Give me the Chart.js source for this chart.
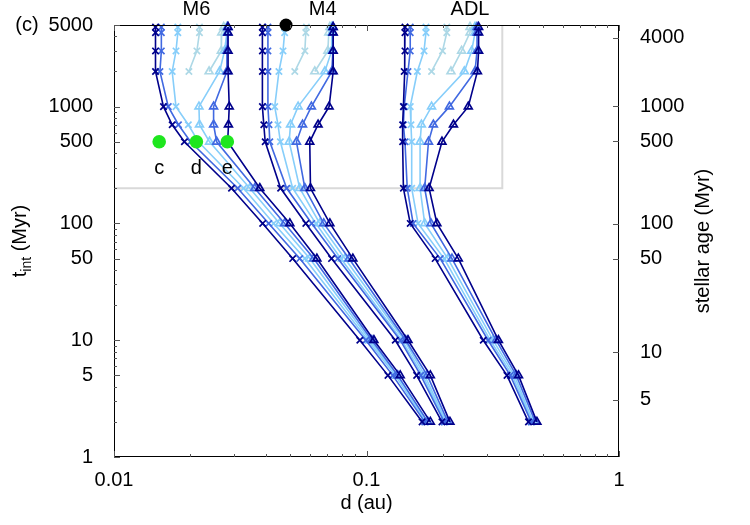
<!DOCTYPE html>
<html><head><meta charset="utf-8">
<script src="https://cdn.jsdelivr.net/npm/chart.js@4"></script>
<style>html,body{margin:0;padding:0;background:#fff}#wrap{width:750px;height:525px}</style>
</head><body><div id="wrap"><canvas id="c" width="750" height="525"></canvas></div>
<script>
// ---------- data ----------
const tRows     = [4800, 4300, 3000, 2000, 1000, 700, 500, 200, 100, 50, 10, 5, 2];   // t_int (Myr)
const tRowsPale = [4800, 4300, 3000, 2000];

const m6NavyCross  = [0.0146, 0.0146, 0.0146, 0.0146, 0.0157, 0.0170, 0.0190, 0.0292, 0.0388, 0.0510, 0.0941, 0.1216, 0.166];
const m6RoyalCross = [0.0154, 0.0154, 0.0154, 0.0152, 0.0164, 0.0180, 0.0201, 0.0309, 0.0410, 0.0544, 0.0994, 0.127, 0.170];
const m6SkyCross   = [0.0179, 0.0179, 0.0176, 0.0170, 0.0176, 0.0197, 0.0216, 0.0326, 0.0429, 0.0570, 0.1013, 0.130, 0.172];
const m6PaleCross  = [0.0218, 0.0218, 0.0213, 0.0198];
const m6PaleTri    = [0.0272, 0.0267, 0.0266, 0.0238];
const m6SkyTri     = [0.0280, 0.0280, 0.0274, 0.0262, 0.0217, 0.0218, 0.0239, 0.0345, 0.0453, 0.0596, 0.1032, 0.132, 0.174];
const m6RoyalTri   = [0.0282, 0.0282, 0.0280, 0.0280, 0.0248, 0.0248, 0.0255, 0.0361, 0.0474, 0.0618, 0.1050, 0.133, 0.175];
const m6NavyTri    = [0.0283, 0.0283, 0.0283, 0.0283, 0.0286, 0.0284, 0.0282, 0.0378, 0.0497, 0.0636, 0.1070, 0.136, 0.179];

const m4NavyCross  = [0.0387, 0.0387, 0.0387, 0.0387, 0.0387, 0.0392, 0.0397, 0.0457, 0.0575, 0.0727, 0.130, 0.158, 0.199];
const m4RoyalCross = [0.0407, 0.0407, 0.0407, 0.0407, 0.0407, 0.0411, 0.0414, 0.0483, 0.0607, 0.0770, 0.136, 0.164, 0.203];
const m4SkyCross   = [0.0474, 0.0474, 0.0467, 0.0450, 0.0433, 0.0446, 0.0456, 0.0510, 0.0630, 0.0791, 0.138, 0.167, 0.205];
const m4PaleCross  = [0.0578, 0.0575, 0.0570, 0.0520];
const m4PaleTri    = [0.0716, 0.0709, 0.0703, 0.0624];
const m4SkyTri     = [0.0729, 0.0729, 0.0727, 0.0684, 0.0536, 0.0500, 0.0494, 0.0544, 0.0653, 0.0821, 0.141, 0.170, 0.207];
const m4RoyalTri   = [0.0736, 0.0736, 0.0736, 0.0729, 0.0605, 0.0558, 0.0528, 0.0570, 0.0677, 0.0852, 0.143, 0.174, 0.210];
const m4NavyTri    = [0.0738, 0.0738, 0.0738, 0.0738, 0.0711, 0.0643, 0.0596, 0.0600, 0.0716, 0.0883, 0.146, 0.179, 0.214];

const adlNavyCross  = [0.142, 0.142, 0.142, 0.141, 0.140, 0.139, 0.139, 0.140, 0.149, 0.187, 0.290, 0.360, 0.438];
const adlRoyalCross = [0.149, 0.149, 0.149, 0.146, 0.141, 0.140, 0.142, 0.145, 0.153, 0.196, 0.303, 0.371, 0.449];
const adlSkyCross   = [0.172, 0.172, 0.169, 0.159, 0.149, 0.150, 0.151, 0.151, 0.160, 0.203, 0.309, 0.378, 0.453];
const adlPaleCross  = [0.208, 0.208, 0.200, 0.181];
const adlPaleTri    = [0.257, 0.257, 0.238, 0.216];
const adlSkyTri     = [0.269, 0.269, 0.261, 0.244, 0.181, 0.165, 0.163, 0.163, 0.170, 0.210, 0.317, 0.385, 0.457];
const adlRoyalTri   = [0.274, 0.274, 0.274, 0.269, 0.213, 0.184, 0.176, 0.170, 0.180, 0.218, 0.326, 0.392, 0.466];
const adlNavyTri    = [0.278, 0.278, 0.278, 0.275, 0.253, 0.221, 0.199, 0.177, 0.190, 0.231, 0.333, 0.400, 0.473];

const insetBoxD = [0.01, 0.345, 0.345];
const insetBoxT = [200, 200, 5000];

const greenD = [0.0151, 0.0212, 0.0281];
const greenT = [500, 500, 500];
const greenLabels = ['c', 'd', 'e'];

const blackD = [0.048];
const blackT = [5000];

const groupLabels = ['M6', 'M4', 'ADL'];
const groupLabelD = [0.0212, 0.0671, 0.257];

const xTicks = [0.01, 0.1, 1];
const yTicks = [1, 5, 10, 50, 100, 500, 1000, 5000];
const ageTickLabels = [5, 10, 50, 100, 500, 1000, 4000];
const ageTickAtTint = [3.1, 7.9, 50, 99, 505, 1010, 3900];

// ---------- styling ----------
const FONT = '"Liberation Sans", Arial, Helvetica, sans-serif';
const FS = 20;
const COL = {navy: '#00008b', royal: '#4169e1', sky: '#87cefa', pale: '#add8e6'};

function pts(ds, ts) { return ds.map((d, i) => ({x: d, y: ts[i]})); }
function curve(ds, ts, color, marker, order) {
  const tri = marker === 'tri';
  return {
    data: pts(ds, ts), showLine: true, order: order, clip: 8,
    borderColor: color, borderWidth: 1.6,
    backgroundColor: tri ? 'rgba(0,0,0,0)' : color,
    pointStyle: tri ? 'triangle' : 'crossRot',
    pointRadius: 4.5, pointBorderWidth: 1.7,
    pointBorderColor: color, pointBackgroundColor: 'rgba(0,0,0,0)'
  };
}
function group(nc, rc, sc, pc, pt, st, rt, nt) {
  return [
    curve(pc, tRowsPale, COL.pale, 'cross', 8),
    curve(pt, tRowsPale, COL.pale, 'tri', 8),
    curve(sc, tRows, COL.sky, 'cross', 6),
    curve(st, tRows, COL.sky, 'tri', 6),
    curve(rc, tRows, COL.royal, 'cross', 4),
    curve(rt, tRows, COL.royal, 'tri', 4),
    curve(nc, tRows, COL.navy, 'cross', 2),
    curve(nt, tRows, COL.navy, 'tri', 2)
  ];
}

const datasets = [
  {data: pts(insetBoxD, insetBoxT), showLine: true, borderColor: '#d9d9d9', borderWidth: 2, pointRadius: 0, order: 50, clip: 2},
  ...group(m6NavyCross, m6RoyalCross, m6SkyCross, m6PaleCross, m6PaleTri, m6SkyTri, m6RoyalTri, m6NavyTri),
  ...group(m4NavyCross, m4RoyalCross, m4SkyCross, m4PaleCross, m4PaleTri, m4SkyTri, m4RoyalTri, m4NavyTri),
  ...group(adlNavyCross, adlRoyalCross, adlSkyCross, adlPaleCross, adlPaleTri, adlSkyTri, adlRoyalTri, adlNavyTri),
  {data: pts(greenD, greenT), showLine: false, pointRadius: 6.8, pointStyle: 'circle', backgroundColor: '#1ee61e', borderColor: '#1ee61e', pointBorderWidth: 0, order: 0},
  {data: pts(blackD, blackT), showLine: false, pointRadius: 6.5, pointStyle: 'circle', backgroundColor: '#000', borderColor: '#000', pointBorderWidth: 0, order: 0, clip: false}
];

function minorList(lo, hi) {
  const out = [];
  for (let dec = lo; dec < hi; dec *= 10) for (let k = 2; k <= 9; k++) { const v = k * dec; if (v <= hi) out.push(v); }
  return out;
}

const decor = {
  id: 'decor',
  afterDraw(chart) {
    const {ctx, chartArea: a, scales: {x, y, y2}} = chart;
    ctx.save();
    ctx.strokeStyle = '#000'; ctx.lineWidth = 1;
    ctx.strokeRect(Math.round(a.left) + 0.5, Math.round(a.top) + 0.5, Math.round(a.right - a.left) - 1, Math.round(a.bottom - a.top) - 1);
    ctx.strokeStyle = '#555';
    ctx.beginPath();
    const xMaj = xTicks, xMin = minorList(0.01, 1).filter(v => xMaj.indexOf(v) < 0);
    xMaj.forEach(v => { const px = Math.round(x.getPixelForValue(v)) + 0.5; ctx.moveTo(px, a.bottom); ctx.lineTo(px, a.bottom - 6); ctx.moveTo(px, a.top); ctx.lineTo(px, a.top + 6); });
    xMin.forEach(v => { const px = Math.round(x.getPixelForValue(v)) + 0.5; ctx.moveTo(px, a.bottom); ctx.lineTo(px, a.bottom - 3); ctx.moveTo(px, a.top); ctx.lineTo(px, a.top + 3); });
    const yMin = minorList(1, 5000).filter(v => yTicks.indexOf(v) < 0);
    yTicks.forEach(v => { const py = Math.round(y.getPixelForValue(v)) + 0.5; ctx.moveTo(a.left, py); ctx.lineTo(a.left + 6, py); });
    yMin.forEach(v => { const py = Math.round(y.getPixelForValue(v)) + 0.5; ctx.moveTo(a.left, py); ctx.lineTo(a.left + 3, py); });
    ageTickAtTint.forEach(v => { const py = Math.round(y2.getPixelForValue(v)) + 0.5; ctx.moveTo(a.right, py); ctx.lineTo(a.right - 6, py); });
    ctx.stroke();

    ctx.fillStyle = '#000';
    ctx.font = FS + 'px ' + FONT;
    ctx.textAlign = 'center'; ctx.textBaseline = 'middle';
    groupLabels.forEach((s, i) => ctx.fillText(s, x.getPixelForValue(groupLabelD[i]), 9));
    greenLabels.forEach((s, i) => ctx.fillText(s, x.getPixelForValue(greenD[i]), y.getPixelForValue(greenT[i]) + 27));
    ctx.fillText('(c)', 27, 25);
    ctx.fillText('d (au)', (a.left + a.right) / 2, 503);
    ctx.save();
    ctx.translate(703, (a.top + a.bottom) / 2); ctx.rotate(-Math.PI / 2);
    ctx.fillText('stellar age (Myr)', 0, 0);
    ctx.restore();
    ctx.save();
    ctx.translate(22, (a.top + a.bottom) / 2); ctx.rotate(-Math.PI / 2);
    const f1 = FS + 'px ' + FONT, f2 = Math.round(FS * 0.7) + 'px ' + FONT;
    ctx.font = f1; const w1 = ctx.measureText('t').width; const w3 = ctx.measureText(' (Myr)').width;
    ctx.font = f2; const w2 = ctx.measureText('int').width;
    let sx = -(w1 + w2 + w3) / 2;
    ctx.textAlign = 'left';
    ctx.font = f1; ctx.fillText('t', sx, -2); sx += w1;
    ctx.font = f2; ctx.fillText('int', sx, 5); sx += w2;
    ctx.font = f1; ctx.fillText(' (Myr)', sx, -2);
    ctx.restore();
    ctx.restore();
  }
};

const tickFont = {family: FONT, size: FS};
new Chart(document.getElementById('c'), {
  type: 'scatter',
  data: {datasets},
  options: {
    responsive: false, animation: false, devicePixelRatio: 1,
    layout: {padding: {top: 25, left: 0, right: 0, bottom: 0}},
    plugins: {legend: {display: false}, tooltip: {enabled: false}},
    scales: {
      x: {
        type: 'logarithmic', min: 0.01, max: 1, position: 'bottom',
        grid: {display: false}, border: {display: false},
        afterBuildTicks: s => { s.ticks = xTicks.map(v => ({value: v})); },
        afterFit: s => { s.height = 68; },
        ticks: {font: tickFont, color: '#000', padding: 3, autoSkip: false, maxRotation: 0, callback: v => String(v)}
      },
      y: {
        type: 'logarithmic', min: 1, max: 5000, position: 'left',
        grid: {display: false}, border: {display: false},
        afterBuildTicks: s => { s.ticks = yTicks.map(v => ({value: v})); },
        afterFit: s => { s.width = 114; },
        ticks: {font: tickFont, color: '#000', padding: 13, autoSkip: false, callback: v => String(v)}
      },
      y2: {
        type: 'logarithmic', min: 1, max: 5000, position: 'right',
        grid: {display: false}, border: {display: false},
        afterBuildTicks: s => { s.ticks = ageTickAtTint.map(v => ({value: v})); },
        afterFit: s => { s.width = 131; },
        ticks: {font: tickFont, color: '#000', padding: 13, autoSkip: false, callback: (v, i) => String(ageTickLabels[i])}
      }
    }
  },
  plugins: [decor]
});
</script>
</body></html>
